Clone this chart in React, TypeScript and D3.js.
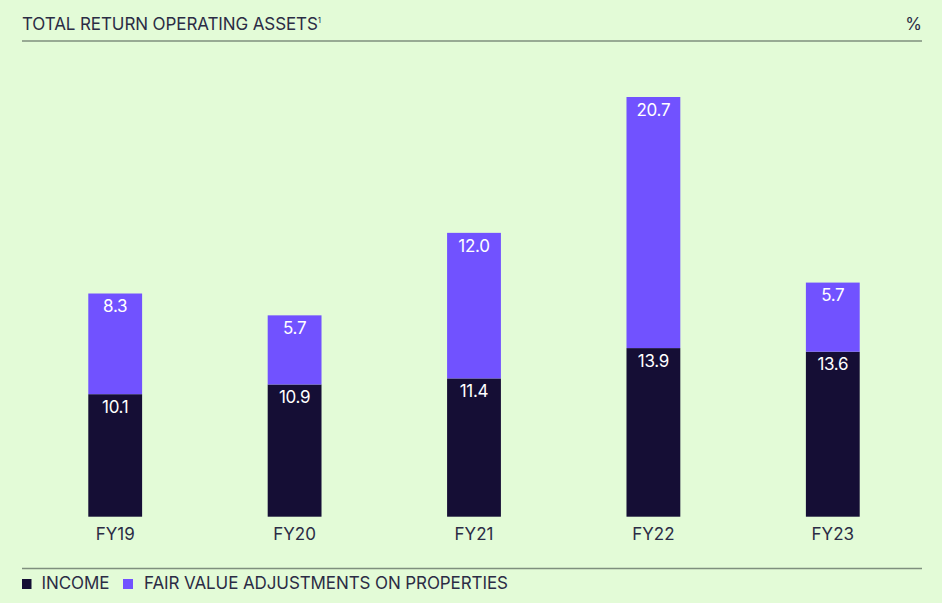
import { useMemo } from 'react';
import * as d3 from 'd3';

const years = ['FY19', 'FY20', 'FY21', 'FY22', 'FY23'];
const income = [10.1, 10.9, 11.4, 13.9, 13.6];
const fairValue = [8.3, 5.7, 12.0, 20.7, 5.7];

const W = 942;
const H = 603;
const BASE = 516.7;
const FONT = 'Inter, "Noto Sans", sans-serif';
const INK = '#2b2c45';
const NAVY = '#150e35';
const PURPLE = '#7152ff';

export default function App() {
  const x = useMemo(
    () => d3.scaleBand().domain(years).range([25.5, 922.5]).paddingInner(0.7).paddingOuter(0.35),
    []
  );
  // ~12.13 px per percentage point
  const y = useMemo(() => d3.scaleLinear().domain([0, 35]).range([BASE, BASE - 35 * 12.13]), []);

  const stacked = years.map((yr, i) => ({
    yr,
    inc: income[i],
    fv: fairValue[i],
    y0: y(income[i]),
    y1: y(income[i] + fairValue[i])
  }));

  return (
    <svg width={W} height={H} style={{ position: 'fixed', left: 0, top: 0 }} fontFamily={FONT}>
      <rect x={0} y={0} width={W} height={H} fill="#e3fbd7" />
      <text x={22} y={30} fontSize={17} fill={INK} letterSpacing={-0.1}>
        TOTAL RETURN OPERATING ASSETS
        <tspan fontSize={8} dy={-7}>1</tspan>
      </text>
      <text x={922} y={30} fontSize={17} fill={INK} textAnchor="end">%</text>
      <line x1={22} x2={922} y1={41} y2={41} stroke="#7f8f7e" strokeWidth={1.4} />

      {stacked.map((d) => {
        const bx = x(d.yr) ?? 0;
        const bw = x.bandwidth();
        const cx = bx + bw / 2;
        return (
          <g key={d.yr}>
            <rect x={bx} y={d.y0} width={bw} height={BASE - d.y0} fill={NAVY} />
            <rect x={bx} y={d.y1} width={bw} height={d.y0 - d.y1} fill={PURPLE} />
            <text x={cx} y={d.y1 + 18.7} fontSize={17} fill="#ffffff" textAnchor="middle" letterSpacing={-0.3}>
              {d.fv.toFixed(1)}
            </text>
            <text x={cx} y={d.y0 + 18.7} fontSize={17} fill="#ffffff" textAnchor="middle" letterSpacing={-0.3}>
              {d.inc.toFixed(1)}
            </text>
            <text x={cx} y={540} fontSize={17} fill={INK} textAnchor="middle">
              {d.yr}
            </text>
          </g>
        );
      })}

      <line x1={22} x2={922} y1={568.5} y2={568.5} stroke="#7f8f7e" strokeWidth={1.4} />
      <rect x={22} y={579} width={9.5} height={10} fill={NAVY} />
      <text x={41.5} y={589} fontSize={17} fill={INK} letterSpacing={-0.1}>INCOME</text>
      <rect x={123} y={579} width={10} height={10} fill={PURPLE} />
      <text x={144} y={589} fontSize={17} fill={INK} letterSpacing={-0.1}>
        FAIR VALUE ADJUSTMENTS ON PROPERTIES
      </text>
    </svg>
  );
}
